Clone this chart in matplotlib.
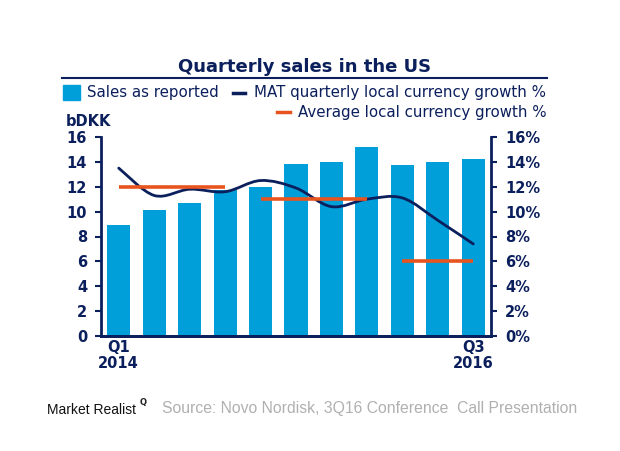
import matplotlib
matplotlib.use("Agg")
import matplotlib.pyplot as plt
from matplotlib.path import Path
from matplotlib.patches import PathPatch, Rectangle
from matplotlib.lines import Line2D
from matplotlib.ticker import FuncFormatter, MultipleLocator
import numpy as np

quarters = ["Q1\n2014", "Q2 2014", "Q3 2014", "Q4 2014", "Q1 2015", "Q2 2015",
            "Q3 2015", "Q4 2015", "Q1 2016", "Q2 2016", "Q3\n2016"]
sales_bdkk = [8.9, 10.1, 10.7, 11.7, 12.0, 13.85, 13.95, 15.2, 13.75, 13.95, 14.2]
mat_growth = [13.5, 11.3, 11.8, 11.6, 12.5, 11.9, 10.4, 11.0, 11.1, 9.3, 7.4]
avg_periods = [(0, 3), (4, 7), (8, 10)]
avg_growth = [12.0, 11.0, 6.0]
shown_ticks = {0: "Q1\n2014", 10: "Q3\n2016"}

NAVY = "#0b1f5c"
BLUE = "#009fd9"
ORANGE = "#e8541e"

plt.rcParams['font.family'] = ['DejaVu Sans']
fig = plt.figure(figsize=(6.2, 4.51), dpi=100)
W, H = 620, 451
ax = fig.add_axes([101 / W, 1 - 336 / H, (491 - 101) / W, (336 - 137) / H])
ax2 = ax.twinx()

x = np.arange(len(quarters))
ax.bar(x, sales_bdkk, width=0.65, color=BLUE, zorder=2)
ax.set_xlim(-0.5, len(quarters) - 0.5)
ax.set_ylim(0, 16)
ax2.set_ylim(0, 16)

# smoothed MAT line (Bezier through data points)
pts = list(zip(x.astype(float), mat_growth))
verts = [pts[0]]
codes = [Path.MOVETO]
n = len(pts)
for i in range(n - 1):
    p0 = np.array(pts[i - 1] if i > 0 else pts[i])
    p1 = np.array(pts[i])
    p2 = np.array(pts[i + 1])
    p3 = np.array(pts[i + 2] if i + 2 < n else pts[i + 1])
    c1 = p1 + (p2 - p0) / 6.0
    c2 = p2 - (p3 - p1) / 6.0
    verts += [tuple(c1), tuple(c2), tuple(p2)]
    codes += [Path.CURVE4] * 3
ax2.add_patch(PathPatch(Path(verts, codes), facecolor="none", edgecolor=NAVY,
                        lw=2.0, zorder=3, capstyle="round"))

for (a, b), v in zip(avg_periods, avg_growth):
    ax2.plot([a, b], [v, v], color=ORANGE, lw=2.6, zorder=4, solid_capstyle="butt")

# styling
for a in (ax, ax2):
    a.spines["top"].set_visible(False)
    for s in ("left", "right", "bottom"):
        a.spines[s].set_color(NAVY)
        a.spines[s].set_linewidth(2)
ax.spines["right"].set_visible(False)
ax2.spines["left"].set_visible(False)
ax.yaxis.set_major_locator(MultipleLocator(2))
ax2.yaxis.set_major_locator(MultipleLocator(2))
ax2.yaxis.set_major_formatter(FuncFormatter(lambda v, p: f"{int(v)}%"))
ax.tick_params(axis="y", colors=NAVY, length=4, width=1.5, pad=6, labelsize=10.5)
ax2.tick_params(axis="y", colors=NAVY, length=4, width=1.5, pad=6, labelsize=10.5)
for lab in ax.get_yticklabels() + ax2.get_yticklabels():
    lab.set_fontweight("bold")
ax.set_xticks(list(shown_ticks.keys()))
ax.set_xticklabels(list(shown_ticks.values()), fontsize=10.5, fontweight="bold",
                   color=NAVY, linespacing=1.05)
ax.tick_params(axis="x", length=0, pad=3)

# title + underline
fig.text(305 / W, 1 - 67 / H, "Quarterly sales in the US", ha="center", va="center",
         fontsize=13, fontweight="bold", color=NAVY)
fig.add_artist(Line2D([62 / W, 547 / W], [1 - 78 / H, 1 - 78 / H], color=NAVY, lw=1.5,
                      transform=fig.transFigure))

# legend
fig.add_artist(Rectangle((63 / W, 1 - 100 / H), 17 / W, 15 / H, color=BLUE,
                         transform=fig.transFigure))
fig.text(87 / W, 1 - 93 / H, "Sales as reported", ha="left", va="center",
         fontsize=10.8, color=NAVY)
fig.add_artist(Line2D([233 / W, 245 / W], [1 - 93 / H, 1 - 93 / H], color=NAVY, lw=2.5,
                      transform=fig.transFigure))
fig.text(254 / W, 1 - 93 / H, "MAT quarterly local currency growth %", ha="left",
         va="center", fontsize=10.8, color=NAVY)
fig.add_artist(Line2D([277 / W, 290 / W], [1 - 112 / H, 1 - 112 / H], color=ORANGE, lw=2.5,
                      transform=fig.transFigure))
fig.text(298 / W, 1 - 112 / H, "Average local currency growth %", ha="left",
         va="center", fontsize=10.8, color=NAVY)
fig.text(66 / W, 1 - 121 / H, "bDKK", ha="left", va="center", fontsize=10.5,
         fontweight="bold", color=NAVY)

# footer
fig.text(47 / W, 1 - 410 / H, "Market Realist", ha="left", va="center", fontsize=10,
         color="#111111",
         family=["Liberation Sans Narrow", "Liberation Sans"])
fig.text(143 / W, 1 - 403 / H, "Q", ha="center", va="center", fontsize=6,
         color="#222222", fontweight="bold")
fig.text(162 / W, 1 - 409 / H, "Source: Novo Nordisk, 3Q16 Conference  Call Presentation",
         ha="left", va="center", fontsize=11.3, color="#b0b0b0",
         family=["Liberation Sans"])

fig.savefig("out.png", dpi=100)
